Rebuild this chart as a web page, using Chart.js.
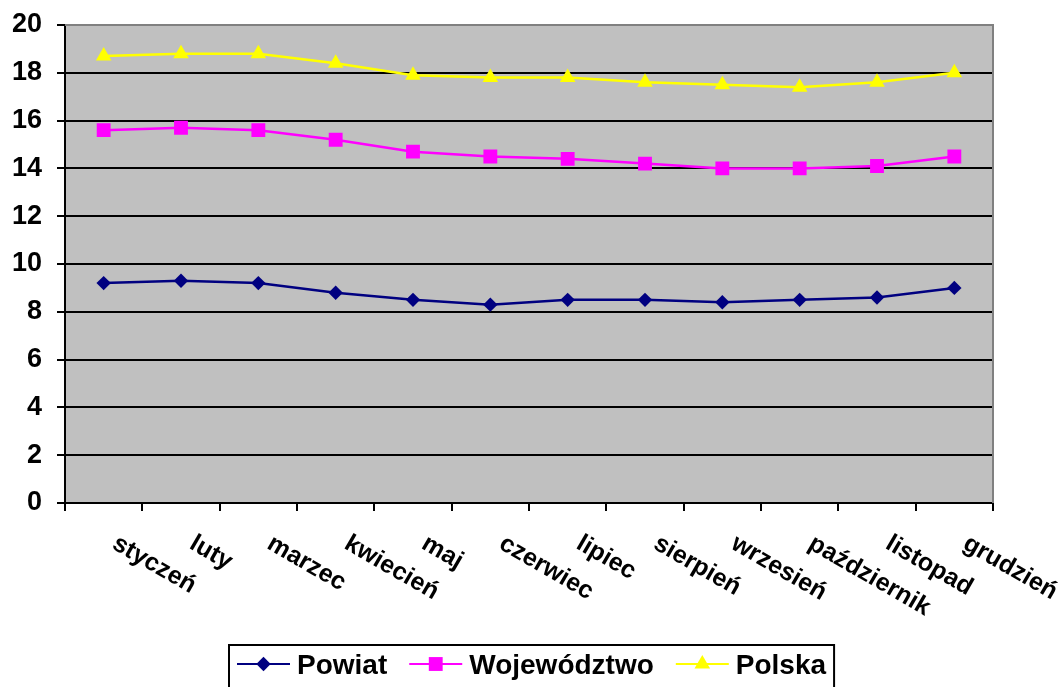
<!DOCTYPE html>
<html>
<head>
<meta charset="utf-8">
<script src="https://cdn.jsdelivr.net/npm/chart.js@4.4.0/dist/chart.umd.min.js"></script>
<style>
  html, body { margin: 0; padding: 0; background: #fff; }
</style>
</head>
<body>
<canvas id="chart" width="1064" height="687"></canvas>
<script>
// bezrobocie - miesięczne wartości
const MONTHS = ['styczeń', 'luty', 'marzec', 'kwiecień', 'maj', 'czerwiec',
                'lipiec', 'sierpień', 'wrzesień', 'październik', 'listopad', 'grudzień'];
const POWIAT      = [9.2, 9.3, 9.2, 8.8, 8.5, 8.3, 8.5, 8.5, 8.4, 8.5, 8.6, 9.0];
const WOJEWODZTWO = [15.6, 15.7, 15.6, 15.2, 14.7, 14.5, 14.4, 14.2, 14.0, 14.0, 14.1, 14.5];
const POLSKA      = [18.7, 18.8, 18.8, 18.4, 17.9, 17.8, 17.8, 17.6, 17.5, 17.4, 17.6, 18.0];
const Y_MIN = 0, Y_MAX = 20, Y_STEP = 2;

const FONT = '"Liberation Sans", Arial, sans-serif';

// szare tło obszaru wykresu + szara ramka góra/prawo
const plotArea = {
  id: 'plotArea',
  beforeDraw(chart) {
    const { ctx, chartArea: a } = chart;
    ctx.save();
    ctx.fillStyle = '#c0c0c0';
    ctx.fillRect(a.left, a.top, a.right - a.left, a.bottom - a.top);
    ctx.restore();
  },
  beforeDatasetsDraw(chart) {
    const { ctx, chartArea: a } = chart;
    ctx.save();
    ctx.strokeStyle = '#808080';
    ctx.lineWidth = 2;
    ctx.beginPath();
    ctx.moveTo(a.left, a.top);
    ctx.lineTo(a.right, a.top);
    ctx.lineTo(a.right, a.bottom);
    ctx.stroke();
    ctx.restore();
  }
};

// etykiety miesięcy pochylone w dół (jak w Excelu)
const monthLabels = {
  id: 'monthLabels',
  afterDraw(chart) {
    const { ctx } = chart;
    const xs = chart.scales.x;
    ctx.save();
    ctx.fillStyle = '#000';
    ctx.font = 'bold 25px ' + FONT;
    ctx.textAlign = 'left';
    ctx.textBaseline = 'top';
    chart.data.labels.forEach((lbl, i) => {
      const x = xs.getPixelForValue(i) + 17;
      const y = xs.top + 28;
      ctx.save();
      ctx.translate(x, y);
      ctx.rotate(Math.PI / 6);
      ctx.fillText(lbl, 0, 0);
      ctx.restore();
    });
    ctx.restore();
  }
};

// legenda w ramce: linia + znacznik + nazwa
const boxLegend = {
  id: 'boxLegend',
  afterDraw(chart) {
    const { ctx } = chart;
    const sets = chart.data.datasets;
    const lineW = 53, textGap = 7, gap = 22, padX = 8;
    ctx.save();
    ctx.font = 'bold 28px ' + FONT;
    const widths = sets.map(ds => lineW + textGap + ctx.measureText(ds.label).width);
    const total = widths.reduce((s, w) => s + w, 0) + gap * (sets.length - 1);
    const boxW = total + padX * 2;
    const left = Math.round((chart.width - boxW) / 2);
    const top = 645;
    ctx.strokeStyle = '#000';
    ctx.lineWidth = 2;
    ctx.strokeRect(left, top, boxW, 60);

    const cy = 664;
    let x = left + padX;
    sets.forEach((ds, i) => {
      ctx.strokeStyle = ds.borderColor;
      ctx.lineWidth = 2;
      ctx.beginPath();
      ctx.moveTo(x, cy);
      ctx.lineTo(x + lineW, cy);
      ctx.stroke();
      ctx.fillStyle = ds.backgroundColor;
      Chart.helpers.drawPoint(ctx, {
        pointStyle: ds.pointStyle, radius: ds.pointRadius, rotation: 0, borderWidth: 0
      }, x + lineW / 2, cy);
      ctx.fillStyle = '#000';
      ctx.textAlign = 'left';
      ctx.textBaseline = 'alphabetic';
      ctx.fillText(ds.label, x + lineW + textGap, cy + 10);
      x += widths[i] + gap;
    });
    ctx.restore();
  }
};

function series(label, data, color, style, radius) {
  return {
    label, data,
    borderColor: color,
    backgroundColor: color,
    borderWidth: 2.5,
    pointStyle: style,
    pointRadius: radius,
    pointHoverRadius: radius,
    pointBorderWidth: 0,
    tension: 0,
    fill: false
  };
}

new Chart(document.getElementById('chart'), {
  type: 'line',
  data: {
    labels: MONTHS,
    datasets: [
      series('Powiat', POWIAT, '#000080', 'rectRot', 7.2),
      series('Województwo', WOJEWODZTWO, '#ff00ff', 'rect', 9.8),
      series('Polska', POLSKA, '#ffff00', 'triangle', 9)
    ]
  },
  options: {
    responsive: false,
    animation: false,
    layout: { padding: { top: 25, right: 71, left: 0, bottom: 0 } },
    plugins: {
      legend: { display: false },
      tooltip: { enabled: false }
    },
    scales: {
      x: {
        offset: true,
        grid: { offset: true, drawOnChartArea: false, drawTicks: true, tickLength: 8, color: '#000', lineWidth: 2 },
        border: { color: '#000', width: 2 },
        ticks: { display: false },
        afterFit: s => { s.height = 184; }
      },
      y: {
        min: Y_MIN,
        max: Y_MAX,
        grid: { color: '#000', lineWidth: 2, tickLength: 8 },
        border: { color: '#000', width: 2 },
        ticks: {
          stepSize: Y_STEP,
          padding: 15,
          color: '#000',
          font: { family: FONT, size: 27, weight: 'bold' }
        },
        afterFit: s => { s.width = 65; s.paddingTop = 0; s.paddingBottom = 0; }
      }
    }
  },
  plugins: [plotArea, monthLabels, boxLegend]
});
</script>
</body>
</html>
